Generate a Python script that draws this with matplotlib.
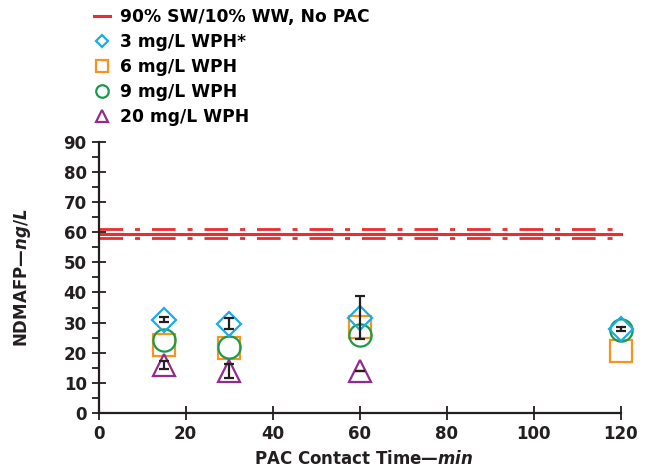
import matplotlib
matplotlib.use("Agg")
from matplotlib import pyplot as plt
from matplotlib.lines import Line2D

plt.rcParams['font.family'] = ['DejaVu Sans']
plt.rcParams['font.weight'] = 'bold'
plt.rcParams['axes.labelweight'] = 'bold'
plt.rcParams['mathtext.fontset'] = 'custom'
plt.rcParams['mathtext.rm'] = 'DejaVu Sans:bold'
plt.rcParams['mathtext.it'] = 'DejaVu Sans:bold:italic'

# baseline (no PAC) mean and its bounds
baseline = 59.5
baseline_lo = 58.1
baseline_hi = 61.1

# series
labels = ["3 mg/L WPH*", "6 mg/L WPH", "9 mg/L WPH", "20 mg/L WPH"]
x_3 = [15, 30, 60, 120]
y_3 = [31.0, 29.6, 31.6, 27.8]
e_3 = [0.9, 1.8, 7.2, 0.7]
x_6 = [15, 30, 60, 120]
y_6 = [22.6, 21.5, 28.4, 20.5]
x_9 = [15, 30, 60, 120]
y_9 = [24.2, 21.9, 25.9, 27.6]
x_20 = [15, 30, 60]
y_20 = [16.0, 14.0, 13.8]
e_20 = [1.3, 2.4, 0.0]

red = '#ee2b2f'
blue = '#1aace6'
orange = '#f7941d'
green = '#1b9a4a'
purple = '#922b90'
ink = '#231f20'

fig = plt.figure(figsize=(6.57, 4.73), dpi=100)
ax = fig.add_axes([0.15, 0.127, 0.808, 0.573])

# red baseline with dash-dot bounds
ax.plot([0, 120], [baseline, baseline], color=red, lw=2.2, zorder=2)
for b in (baseline_lo, baseline_hi):
    ax.plot([0, 120], [b, b], color=red, lw=2.0, dashes=(8.5, 4.3, 1.8, 4.3),
            dash_capstyle='butt', zorder=2)

mk = dict(linestyle='none', mfc='none', mew=1.6, zorder=3, clip_on=False)
ax.plot(x_6, y_6, marker='s', ms=16, mec=orange, **mk)
ax.plot(x_9, y_9, marker='o', ms=16, mec=green, **mk)
ax.plot(x_3, y_3, marker='D', ms=12.5, mec=blue, **mk)
ax.plot(x_20, y_20, marker='^', ms=16, mec=purple, **mk)

for xs, ys, es in ((x_3, y_3, e_3), (x_20, y_20, e_20)):
    eb = ax.errorbar(xs, ys, yerr=es, fmt='none', ecolor=ink, elinewidth=1.6,
                     capsize=3.8, capthick=1.6, zorder=4)
    for art in eb.get_children():
        art.set_clip_on(False)

ax.set_xlim(0, 122)
ax.set_ylim(0, 90)
ax.set_xticks(range(0, 121, 20))
ax.set_yticks(range(0, 91, 10))
ax.set_yticks(range(5, 90, 10), minor=True)
for s in ('top', 'right'):
    ax.spines[s].set_visible(False)
for s in ('left', 'bottom'):
    ax.spines[s].set_linewidth(1.6)
    ax.spines[s].set_color(ink)
ax.spines['bottom'].set_bounds(0, 120)
ax.tick_params(which='major', direction='inout', length=10, width=1.3,
               labelsize=12, colors=ink)
ax.tick_params(which='minor', direction='out', length=5, width=1.3, colors=ink)

ax.set_xlabel("PAC Contact Time—$\\mathit{min}$", fontsize=12, labelpad=5,
              color=ink)
ax.set_ylabel("NDMAFP—$\\mathit{ng/L}$", fontsize=12, labelpad=22, color=ink)

handles = [
    Line2D([], [], color=red, lw=2.2),
    Line2D([], [], marker='D', ms=6.5, mfc='none', mec=blue, mew=1.6, ls='none'),
    Line2D([], [], marker='s', ms=9, mfc='none', mec=orange, mew=1.6, ls='none'),
    Line2D([], [], marker='o', ms=9, mfc='none', mec=green, mew=1.6, ls='none'),
    Line2D([], [], marker='^', ms=9, mfc='none', mec=purple, mew=1.6, ls='none'),
]
names = ["90% SW/10% WW, No PAC"] + labels
fig.legend(handles, names, loc='upper left', bbox_to_anchor=(0.132, 0.997),
           frameon=False, handlelength=0.95, handletextpad=0.6,
           labelspacing=0.41, borderaxespad=0, prop={'weight': 'bold', 'size': 12.3})

fig.savefig("out.png", dpi=100)
